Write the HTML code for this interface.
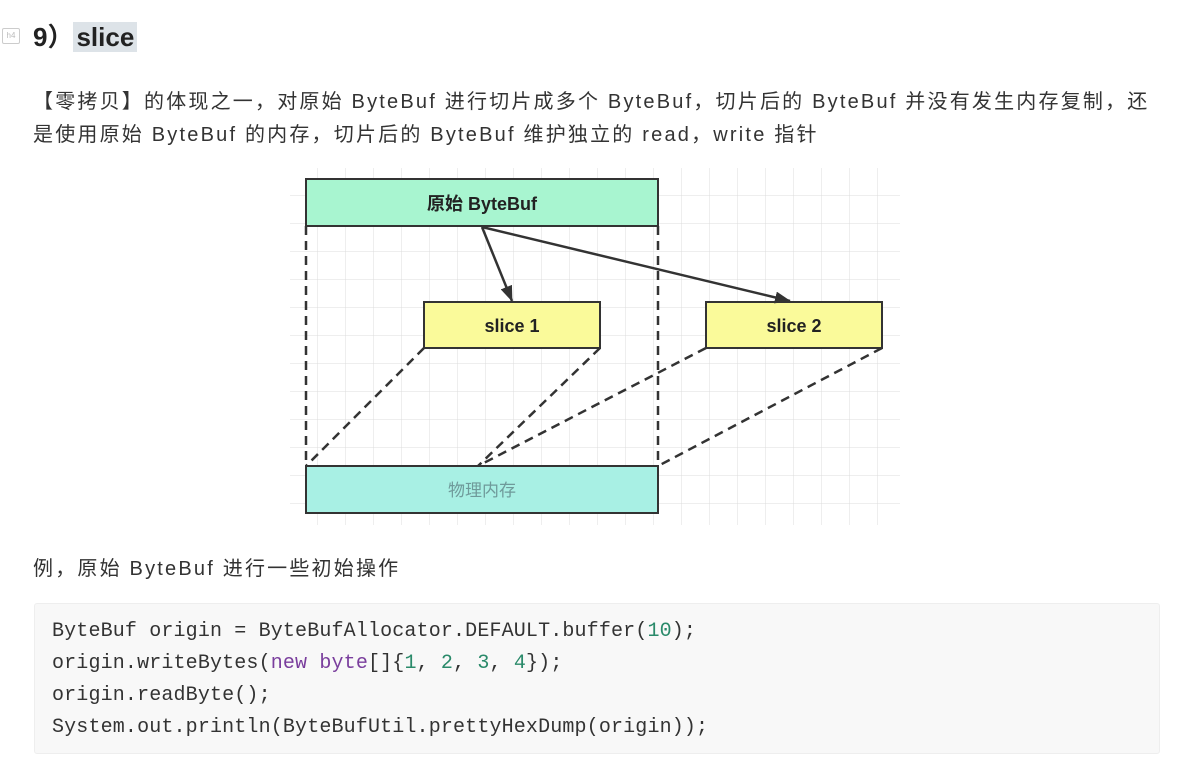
<!DOCTYPE html>
<html><head><meta charset="utf-8"><style>
body{margin:0;width:1200px;height:777px;background:#fff;font-family:"Liberation Sans","Noto Sans CJK SC",sans-serif;color:#333;position:relative;overflow:hidden}
.h{position:absolute;left:33px;top:17px;font-size:26px;font-weight:bold;color:#222}
.h span{background:#dde3e8;padding:0 3px}
.icon{position:absolute;left:2px;top:28px;width:16px;height:14px;border:1px solid #ccc;border-radius:2px;font-size:8px;color:#bbb;text-align:center;line-height:14px}
.p{position:absolute;left:33px;font-size:20px;color:#333;white-space:nowrap;letter-spacing:2.2px}
.code{position:absolute;left:34px;top:603px;width:1124px;height:149px;background:#f8f8f8;border:1px solid #eee;border-radius:3px}
.code pre{margin:0;position:absolute;left:17px;top:12px;font-family:"Liberation Mono",monospace;font-size:20px;line-height:32px;color:#333;letter-spacing:0.15px}
.k{color:#7a3e9d}.n{color:#2a8a6a}
</style></head><body>
<div class="icon">h4</div>
<div class="h">9）<span>slice</span></div>
<div class="p" style="top:85px">【零拷贝】的体现之一，对原始 ByteBuf 进行切片成多个 ByteBuf，切片后的 ByteBuf 并没有发生内存复制，还</div>
<div class="p" style="top:118px">是使用原始 ByteBuf 的内存，切片后的 ByteBuf 维护独立的 read，write 指针</div>
<svg style="position:absolute;left:0;top:0" width="1200" height="777">
<defs>
<pattern id="g" width="28" height="28" patternUnits="userSpaceOnUse" x="290" y="168"><path d="M28 0V28M0 28H28" stroke="#dcdcdc" stroke-width="1" fill="none"/></pattern>
<marker id="a" markerWidth="16" markerHeight="12" refX="15" refY="6" orient="auto" markerUnits="userSpaceOnUse"><path d="M0,0 L16,6 L0,12 z" fill="#333"/></marker>
</defs>
<rect x="290" y="168" width="610" height="357" fill="url(#g)"/>
<g stroke="#333" stroke-width="2.5" stroke-dasharray="9,6" fill="none">
<line x1="306" y1="226" x2="306" y2="466"/>
<line x1="658" y1="226" x2="658" y2="466"/>
<line x1="424" y1="348" x2="306" y2="466"/>
<line x1="600" y1="348" x2="478" y2="466"/>
<line x1="706" y1="348" x2="478" y2="466"/>
<line x1="882" y1="348" x2="658" y2="466"/>
</g>
<rect x="306" y="179" width="352" height="47" fill="#a8f5d0" stroke="#333" stroke-width="2"/>
<text x="482" y="210" text-anchor="middle" font-size="18" font-weight="bold" fill="#222" font-family="Liberation Sans,Noto Sans CJK SC,sans-serif">原始 ByteBuf</text>
<rect x="424" y="302" width="176" height="46" fill="#fafa9a" stroke="#333" stroke-width="2"/>
<text x="512" y="332" text-anchor="middle" font-size="18" font-weight="bold" fill="#222" font-family="Liberation Sans,sans-serif">slice 1</text>
<rect x="706" y="302" width="176" height="46" fill="#fafa9a" stroke="#333" stroke-width="2"/>
<text x="794" y="332" text-anchor="middle" font-size="18" font-weight="bold" fill="#222" font-family="Liberation Sans,sans-serif">slice 2</text>
<rect x="306" y="466" width="352" height="47" fill="#a8f0e4" stroke="#333" stroke-width="2"/>
<text x="482" y="496" text-anchor="middle" font-size="17" fill="#6f9a9a" font-family="Liberation Sans,Noto Sans CJK SC,sans-serif">物理内存</text>
<g stroke="#333" stroke-width="2.5">
<line x1="482" y1="227" x2="512" y2="301" marker-end="url(#a)"/>
<line x1="482" y1="227" x2="790" y2="301" marker-end="url(#a)"/>
</g>
</svg>
<div class="p" style="top:552px">例，原始 ByteBuf 进行一些初始操作</div>
<div class="code"><pre>ByteBuf origin = ByteBufAllocator.DEFAULT.buffer(<span class="n">10</span>);
origin.writeBytes(<span class="k">new</span> <span class="k">byte</span>[]{<span class="n">1</span>, <span class="n">2</span>, <span class="n">3</span>, <span class="n">4</span>});
origin.readByte();
System.out.println(ByteBufUtil.prettyHexDump(origin));</pre></div>
</body></html>
